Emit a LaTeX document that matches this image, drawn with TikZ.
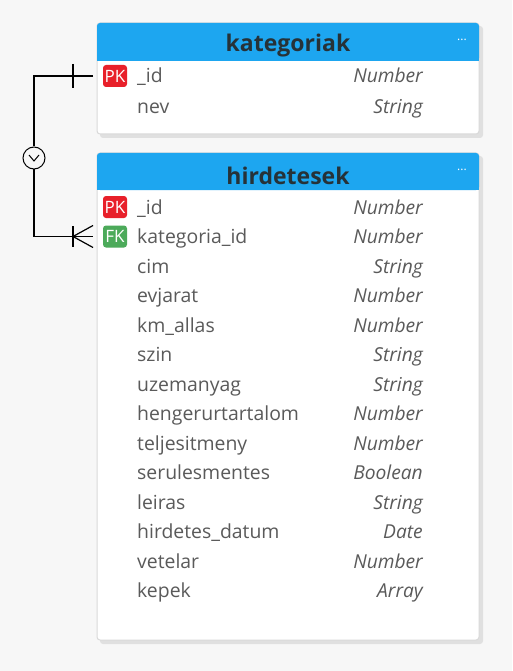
\documentclass[tikz,border=0pt]{standalone}
\usepackage{fontspec}
\setmainfont{Open Sans}
\definecolor{headblue}{HTML}{1DA6F0}
\definecolor{pkred}{HTML}{E8202A}
\definecolor{fkgreen}{HTML}{4CAA5A}
\definecolor{fieldgray}{HTML}{5A5A5A}
\definecolor{titledark}{HTML}{263238}
\tikzset{
  tablebox/.style={draw=black!15, line width=1pt, fill=white, rounded corners=3pt},
  tableshadow/.style={fill=black!12, rounded corners=3pt},
  headbox/.style={fill=headblue, rounded corners=3pt},
  title/.style={text=titledark, font=\fontsize{23}{26}\selectfont\bfseries},
  field/.style={anchor=west, text=fieldgray, inner sep=0pt, text height=15pt, text depth=1pt, font=\fontsize{19.4}{22}\selectfont},
  ftype/.style={anchor=east, text=fieldgray, inner sep=0pt, text height=15pt, text depth=1pt, font=\fontsize{19.2}{22}\selectfont\itshape},
  keybadge/.style={text=white, rounded corners=3pt, minimum width=24pt, minimum height=22pt, inner sep=0pt, font=\fontsize{17}{19}\selectfont},
  dots/.style={text=white, font=\fontsize{12}{13}\selectfont}
}
\begin{document}
\begin{tikzpicture}[x=1pt,y=-1pt]
  \fill[black!3] (0,0) rectangle (512,671);
  \useasboundingbox (0,0) rectangle (512,671);
  % kategoriak
  \fill[tableshadow] (100,26) rectangle (483,138);
  \node (kat) [tablebox, minimum width=382pt, minimum height=111pt] at (288,78.5) {};
  \fill[headbox] (97,23) rectangle (479,61);
  \fill[headblue] (97,50) rectangle (479,61);
  \node (kattitle) [title] at (288,45.5) {kategoriak};
  \node (katdots) [dots] at (462,40) {...};
  \node (katpk) [keybadge, fill=pkred] at (115,76) {PK};
  \node (kat1) [field] at (137,76) {\_id};
  \node (kat1t) [ftype] at (423,76) {Number};
  \node (kat2) [field] at (137,107) {nev};
  \node (kat2t) [ftype] at (423,107) {String};
  % hirdetesek
  \fill[tableshadow] (100,156) rectangle (483,644);
  \node (hir) [tablebox, minimum width=382pt, minimum height=487pt] at (288,396.5) {};
  \fill[headbox] (97,153) rectangle (479,190);
  \fill[headblue] (97,180) rectangle (479,190);
  \node (hirtitle) [title] at (288,175.5) {hirdetesek};
  \node (hirdots) [dots] at (462,170) {...};
  \node (hirpk) [keybadge, fill=pkred] at (115,207) {PK};
  \node (hirfk) [keybadge, fill=fkgreen] at (115,236.5) {FK};
  \foreach \name/\kind [count=\i from 0] in {\_id/Number, kategoria\_id/Number, cim/String,
      evjarat/Number, km\_allas/Number, szin/String, uzemanyag/String,
      hengerurtartalom/Number, teljesitmeny/Number, serulesmentes/Boolean,
      leiras/String, hirdetes\_datum/Date, vetelar/Number, kepek/Array} {
    \node (hir\i) [field] at (137,207+29.5*\i) {\name};
    \node (hir\i t) [ftype] at (423,207+29.5*\i) {\kind};
  }
  % kapcsolat
  \coordinate (one) at (93,76);
  \coordinate (many) at (93,236.5);
  \node (opt) [draw, circle, line width=1pt, minimum size=22pt, inner sep=0pt] at (34,158) {};
  \draw[line width=1.2pt] (one) -- (34,76) -- (opt.north);
  \draw[line width=1.2pt] (opt.south) -- (34,236.5) -- (many);
  \draw[line width=1.2pt] (73,64) -- (73,88);
  \draw[line width=1.2pt] (73,226) -- (73,247);
  \draw[line width=1.2pt] (many) ++(0,-11) -- (73,236.5) -- ++(20,11);
  \draw[line width=1pt] ([shift={(-5,-3)}]opt.center) -- ([shift={(0,3)}]opt.center) -- ([shift={(5,-3)}]opt.center);
\end{tikzpicture}
\end{document}
